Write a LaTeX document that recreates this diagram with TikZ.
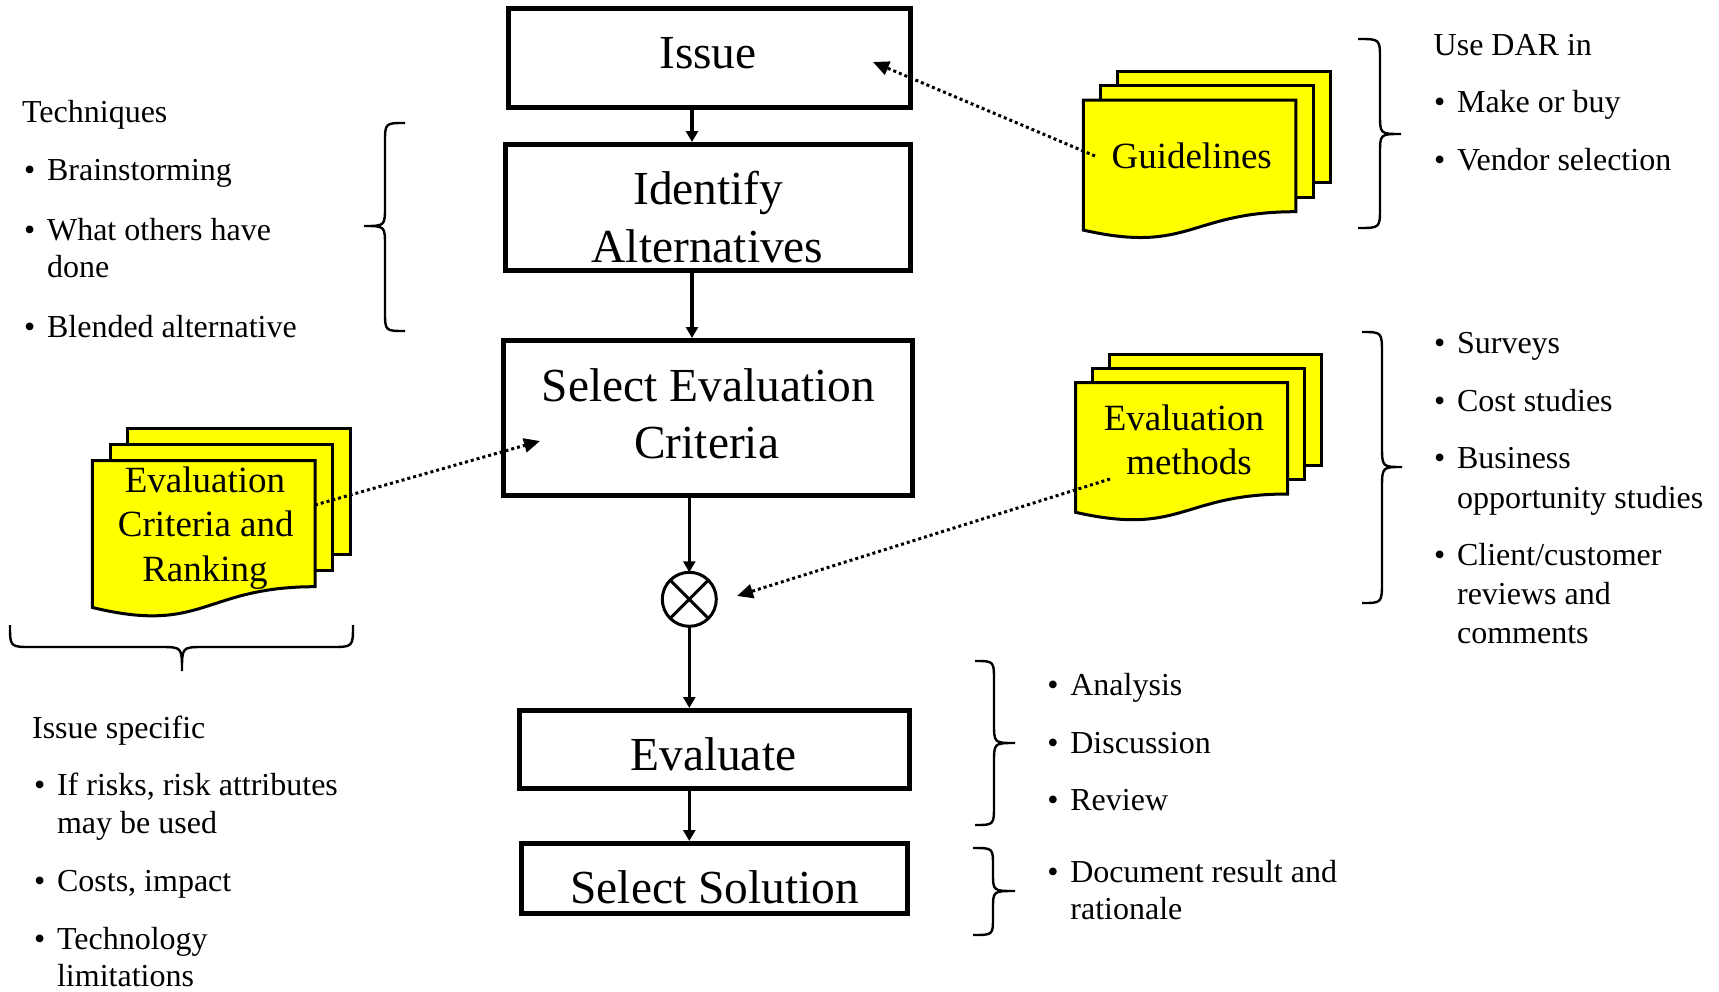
\documentclass[tikz,border=0pt]{standalone}
\usepackage{fontspec}
\setmainfont{Liberation Serif}
\usetikzlibrary{arrows.meta}
\definecolor{docyellow}{RGB}{255,255,0}
\newcommand\bul{\llap{\makebox[11.5pt][l]{\textbullet}}}
% #1 left, #2 top, #3 width, #4 right-side height, #5 dx, #6 dy
\newcommand\docstack[6]{%
  \filldraw[doc] ({#1+2*#5},{#2-2*#6}) rectangle ({#1+2*#5+#3},{#2-2*#6+#4});
  \filldraw[doc] ({#1+#5},{#2-#6}) rectangle ({#1+#5+#3},{#2-#6+#4});
  \filldraw[doc] (#1,#2) -- ({#1+#3},#2) -- ({#1+#3},{#2+#4})
    .. controls ({#1+0.5*#3},{#2+#4}) and ({#1+0.5*#3},{#2+1.381*#4}) .. (#1,{#2+1.1646*#4}) -- cycle;}
% #1 x ends, #2 x spine, #3 x tip, #4 y top, #5 y tip, #6 y bottom, #7 radius
\newcommand\vbracket[7]{%
  \draw[bracestyle] (#1,#4) .. controls (#2,#4) .. (#2,{#4+#7}) -- (#2,{#5-#7})
    .. controls (#2,#5) .. (#3,#5) .. controls (#2,#5) .. (#2,{#5+#7})
    -- (#2,{#6-#7}) .. controls (#2,#6) .. (#1,#6);}
\begin{document}
\begin{tikzpicture}[x=0.5pt,y=-0.5pt,
  box/.style={draw, line width=2.5pt, inner sep=0pt, fill=white},
  btxt/.style={font=\fontsize{23.7}{28}\selectfont, inner sep=0pt, anchor=base},
  dtxt/.style={font=\fontsize{18.5}{22}\selectfont, inner sep=0pt, anchor=base},
  stxt/.style={font=\fontsize{16}{19}\selectfont, inner sep=0pt, anchor=base west},
  doc/.style={draw=black, fill=docyellow, line width=1.5pt, line join=miter},
  arr/.style={line width=1.75pt, -{Triangle[length=5.5pt,width=6pt]}},
  darr/.style={line width=1.5pt, dash pattern=on 1.5pt off 1.5pt, -{Triangle[length=8pt,width=7pt]}},
  bracestyle/.style={line width=1.2pt}]
\useasboundingbox (0,0) rectangle (1719,991);

% main boxes
\node[box, minimum width=201pt, minimum height=49.5pt] (issue) at (709.5,58) {};
\node[box, minimum width=202.5pt, minimum height=63pt] (ident) at (708,207.5) {};
\node[box, minimum width=204.5pt, minimum height=77.5pt] (sec) at (708,418) {};
\node[box, minimum width=195pt, minimum height=39pt] (eval) at (714.5,749.5) {};
\node[box, minimum width=193pt, minimum height=35pt] (sol) at (714.5,878.5) {};
\node[draw, circle, line width=1.5pt, minimum size=27pt, inner sep=0pt, outer sep=0pt, fill=white] (circ) at (689.3,599.3) {};
\draw[line width=1.5pt] (circ.45) -- (circ.225) (circ.135) -- (circ.315);

\node[btxt] (tIssue) at (708,68.3) {Issue};
\node[btxt] (tIdent1) at (708.3,204) {Identify};
\node[btxt] (tIdent2) at (707.5,262) {Alternatives};
\node[btxt] (tSec1) at (708.3,401.7) {Select Evaluation};
\node[btxt] (tSec2) at (706.7,458) {Criteria};
\node[btxt] (tEval) at (713.3,770) {Evaluate};
\node[btxt] (tSol) at (714.7,903.3) {Select Solution};

% flow arrows
\coordinate (xa) at (692,0);
\coordinate (xb) at (689.3,0);
\draw[arr] (issue.south -| xa) -- (ident.north -| xa);
\draw[arr] (ident.south -| xa) -- (sec.north -| xa);
\draw[arr] (sec.south -| xb) -- (circ.north);
\draw[arr] (circ.south) -- (eval.north -| xb);
\draw[arr] (eval.south -| xb) -- (sol.north -| xb);

% document stacks
\docstack{1083.3}{100}{212.5}{111.7}{17.2}{14.5}
\docstack{1075.7}{382.7}{212}{111.3}{16.8}{14.3}
\docstack{92.3}{460.7}{222.7}{126}{17.7}{16.2}

\node[dtxt] (tGl) at (1191.7,168.3) {Guidelines};
\node[dtxt] (tEm1) at (1184,430) {Evaluation};
\node[dtxt] (tEm2) at (1189,474) {methods};
\node[dtxt] (tEcr1) at (205,492.7) {Evaluation};
\node[dtxt] (tEcr2) at (205.8,536.7) {Criteria and};
\node[dtxt] (tEcr3) at (205,581) {Ranking};

% dotted arrows
\coordinate (glS) at (1095,156);
\coordinate (glE) at (873,62);
\coordinate (ecS) at (315,505);
\coordinate (ecE) at (540,441);
\coordinate (emS) at (1110,479);
\coordinate (emE) at (737,596);
\draw[darr] (glS) -- (glE);
\draw[darr] (ecS) -- (ecE);
\draw[darr] (emS) -- (emE);

% braces
\vbracket{405}{385}{364}{123}{226}{331}{20}
\vbracket{1358}{1380}{1401}{39}{134}{228}{20}
\vbracket{1362}{1382}{1402}{332}{467}{603}{22}
\vbracket{975}{994}{1015}{661}{743}{825}{20}
\vbracket{973}{993}{1015}{848}{891}{935}{18}
\draw[bracestyle] (10,625) .. controls (10,647) .. (32,647) -- (160,647)
  .. controls (182,647) .. (182,671) .. controls (182,647) .. (204,647)
  -- (331,647) .. controls (353,647) .. (353,625);

% Techniques
\node[stxt] (s1) at (21.7,122.3) {Techniques};
\node[stxt] (s2) at (46.7,180.2) {\bul Brainstorming};
\node[stxt] (s3) at (46.7,240) {\bul What others have};
\node[stxt] (s4) at (46.7,277) {done};
\node[stxt] (s5) at (46.7,337) {\bul Blended alternative};
% Use DAR
\node[stxt] (u1) at (1433.3,55) {Use DAR in};
\node[stxt] (u2) at (1456.7,112.5) {\bul Make or buy};
\node[stxt] (u3) at (1456.7,170) {\bul Vendor selection};
% methods list
\node[stxt] (m1) at (1456.7,353.5) {\bul Surveys};
\node[stxt] (m2) at (1456.7,411.5) {\bul Cost studies};
\node[stxt] (m3) at (1456.7,468.7) {\bul Business};
\node[stxt] (m4) at (1456.7,508.3) {opportunity studies};
\node[stxt] (m5) at (1456.7,565.5) {\bul Client/customer};
\node[stxt] (m6) at (1456.7,604) {reviews and};
\node[stxt] (m7) at (1456.7,643.3) {comments};
% evaluate list
\node[stxt] (e1) at (1070,695) {\bul Analysis};
\node[stxt] (e2) at (1070,753.3) {\bul Discussion};
\node[stxt] (e3) at (1070,810) {\bul Review};
\node[stxt] (e4) at (1070,882.3) {\bul Document result and};
\node[stxt] (e5) at (1070,919.5) {rationale};
% issue specific
\node[stxt] (i1) at (31.7,738.3) {Issue specific};
\node[stxt] (i2) at (56.7,795) {\bul If risks, risk attributes};
\node[stxt] (i3) at (56.7,833.4) {may be used};
\node[stxt] (i4) at (56.7,891) {\bul Costs, impact};
\node[stxt] (i5) at (56.7,949) {\bul Technology};
\node[stxt] (i6) at (56.7,986) {limitations};
\end{tikzpicture}
\end{document}
